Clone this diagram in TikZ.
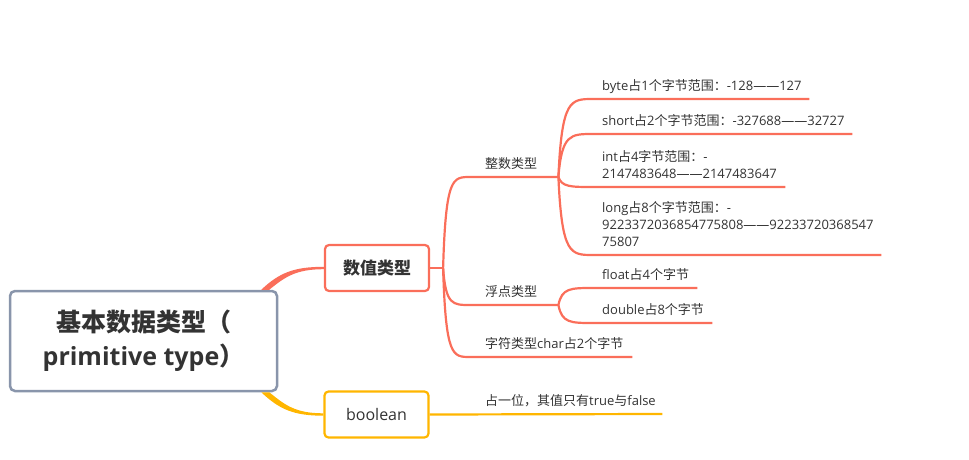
\documentclass[tikz,border=0pt]{standalone}
\usepackage{fontspec}
\setmainfont{Open Sans}
\newfontfamily\cjkfont{Noto Sans CJK SC}
\newcommand\zh[1]{{\cjkfont #1}}
\hyphenpenalty=10000
\exhyphenpenalty=10000
\usetikzlibrary{calc}
\definecolor{ink}{RGB}{51,51,51}
\definecolor{numred}{RGB}{250,110,90}
\definecolor{boolamber}{RGB}{255,182,0}
\definecolor{rootgray}{RGB}{137,149,171}
\tikzset{
  rootbox/.style ={rectangle, rounded corners=5pt, draw=rootgray, line width=2.5pt, fill=white,
                   minimum width=267pt, minimum height=100pt, align=center,
                   font=\fontsize{25}{34}\selectfont\bfseries, text=ink},
  mainbox/.style ={rectangle, rounded corners=4pt, line width=2.2pt, fill=white,
                   minimum width=104pt, minimum height=46pt, text=ink},
  subitem/.style ={anchor=south west, inner xsep=15pt, inner ysep=4pt,
                   execute at end node={\rule[-4pt]{0pt}{4pt}},
                   align=left, font=\fontsize{13}{17}\selectfont, text=ink},
  leafitem/.style={subitem, inner xsep=9pt},
  xmcurve/.style ={to path={let \p1=(\tikztostart), \p2=(\tikztotarget) in
                   .. controls ({\x1+0.1*(\x2-\x1)},\y2) and ({\x1+0.35*(\x2-\x1)},\y2) .. (\tikztotarget)}},
  redline/.style ={draw=numred, line width=2.2pt},
  ambline/.style ={draw=boolamber, line width=2.2pt},
}

\begin{document}
\begin{tikzpicture}[x=1pt, y=-1pt]
\useasboundingbox (0,0) rectangle (969,460);

% main nodes
\node[rootbox] (root) at (143.5,341) {\zh{基本数据类型（}\\primitive type\zh{）}};
\node[mainbox, draw=numred, font=\fontsize{17}{20}\selectfont\bfseries] (num) at (377,268) {\zh{数值类型}};
\node[mainbox, draw=boolamber, font=\fontsize{16}{20}\selectfont] (bool) at (376.5,414.5) {boolean};

% tapered links from the root
\fill[numred] ($(root.north east)+(-17,0)$) .. controls +(18,-17) and +(-30,0) .. ($(num.west)+(0,-1.2)$)
  -- ($(num.west)+(0,1.2)$) .. controls +(-28,0) and +(16,-13) .. ($(root.north east)+(-9,0)$) -- cycle;
\fill[boolamber] ($(root.south east)+(-17,0)$) .. controls +(18,17) and +(-30,0) .. ($(bool.west)+(0,1.2)$)
  -- ($(bool.west)+(0,-1.2)$) .. controls +(-28,0) and +(16,13) .. ($(root.south east)+(-9,0)$) -- cycle;

% numeric types
\coordinate (numfork) at ($(num.east)+(13,0)$);
\draw[redline] (num.east) -- (numfork);
\node[subitem, text width=58pt]  (intgroup)   at (470,177) {\zh{整数类型}};
\node[subitem, text width=58pt]  (floatgroup) at (470,305) {\zh{浮点类型}};
\node[subitem, text width=132pt] (chargroup)  at (470,357) {\zh{字符类型}char\zh{占}2\zh{个字节}};
\foreach \g in {intgroup, floatgroup, chargroup}
  \draw[redline] (numfork) to[xmcurve] (\g.south west) -- (\g.south east);

% integer leaves
\node[leafitem, text width=198pt] (byteleaf)  at (593,99)  {byte\zh{占}1\zh{个字节范围：}-128——127};
\node[leafitem, text width=241pt] (shortleaf) at (593,134) {short\zh{占}2\zh{个字节范围：}-327688——32727};
\node[leafitem, text width=174pt] (intleaf)   at (593,187) {int\zh{占}4\zh{字节范围：}-\\2147483648——2147483647};
\node[leafitem, text width=270pt] (longleaf)  at (593,255) {long\zh{占}8\zh{个字节范围：}-\\9223372036854775808——92233720368547\\75807};
\foreach \l in {byteleaf, shortleaf, intleaf, longleaf}
  \draw[redline] (intgroup.south east) to[xmcurve] (\l.south west) -- (\l.south east);

% floating point leaves
\node[leafitem, text width=86pt]  (floatleaf)  at (593,288) {float\zh{占}4\zh{个字节}};
\node[leafitem, text width=101pt] (doubleleaf) at (593,323) {double\zh{占}8\zh{个字节}};
\foreach \l in {floatleaf, doubleleaf}
  \draw[redline] (floatgroup.south east) to[xmcurve] (\l.south west) -- (\l.south east);

% boolean
\node[subitem, text width=162pt] (boolleaf) at (470,414) {\zh{占一位，其值只有}true\zh{与}false};
\draw[ambline] (bool.east) -- (boolleaf.south east);
\end{tikzpicture}
\end{document}
